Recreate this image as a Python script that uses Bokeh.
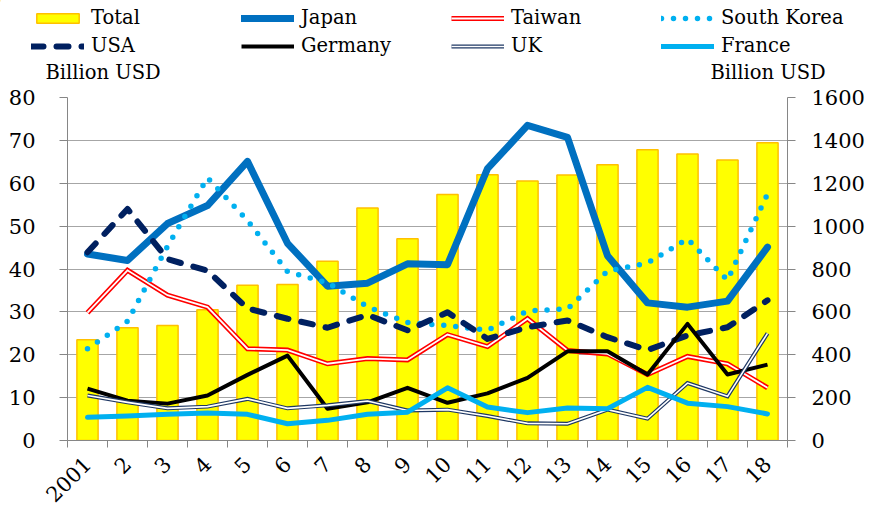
import math
from bokeh.plotting import figure
from bokeh.layouts import column
from bokeh.models import (Range1d, LinearAxis, FixedTicker, Legend, LegendItem,
                          Label, ColumnDataSource, Grid)
from bokeh.embed import file_html
from bokeh.resources import INLINE

# ---------------- data ----------------
years = ["2001", "2", "3", "4", "5", "6", "7", "8", "9", "10",
         "11", "12", "13", "14", "15", "16", "17", "18"]
total = [470, 526, 536, 610, 724, 728, 836, 1084, 941, 1148,
         1240, 1211, 1238, 1286, 1356, 1337, 1309, 1389]
japan = [43.5, 42.0, 50.6, 54.8, 65.1, 46.0, 36.0, 36.7, 41.2, 41.0,
         63.4, 73.5, 70.7, 43.1, 32.1, 31.1, 32.5, 45.1]
taiwan = [29.8, 39.7, 33.9, 31.1, 21.4, 21.1, 17.9, 19.1, 18.8, 24.7,
          21.9, 28.4, 21.0, 20.2, 15.4, 19.6, 17.9, 12.3]
south_korea = [21.4, 27.8, 45.3, 61.3, 51.3, 39.4, 36.8, 31.2, 27.5, 26.8,
               25.7, 30.2, 30.7, 39.5, 41.4, 47.0, 37.4, 57.5]
usa = [43.9, 54.0, 42.3, 39.6, 30.8, 28.4, 26.3, 29.3, 25.7, 29.9,
       23.7, 26.4, 28.0, 24.1, 21.1, 24.5, 26.4, 32.7]
germany = [12.1, 9.3, 8.6, 10.5, 15.3, 19.8, 7.4, 8.9, 12.3, 8.8,
           11.0, 14.6, 20.8, 20.8, 15.4, 27.2, 15.4, 17.7]
uk = [10.5, 8.9, 7.5, 7.9, 9.7, 7.5, 8.2, 9.2, 7.0, 7.2,
      5.7, 4.0, 3.9, 7.2, 5.1, 13.4, 10.3, 25.0]
france = [5.4, 5.7, 6.1, 6.4, 6.1, 3.9, 4.7, 6.1, 6.6, 12.3,
          7.8, 6.5, 7.6, 7.4, 12.4, 8.7, 7.9, 6.2]
left_ticks = [0, 10, 20, 30, 40, 50, 60, 70, 80]
right_ticks = [0, 200, 400, 600, 800, 1000, 1200, 1400, 1600]
unit_label = "Billion USD"

xs = list(range(1, len(years) + 1))
src = ColumnDataSource(dict(x=xs, total=total, japan=japan, taiwan=taiwan,
                            sk=south_korea, usa=usa, germany=germany,
                            uk=uk, france=france))

FONT = "DejaVu Serif"
TICK_FS = "21px"
LEG_FS = "19.5px"
AX = "#868686"
TOP_H = 84

# ---- styles ----
S_TOTAL = dict(fill_color="#FFFF00", line_color="#FFC000", line_width=1.5)
S_JAPAN = dict(line_color="#0070C0", line_width=7, line_join="round", line_cap="round")
S_TW1 = dict(line_color="#FF0000", line_width=5, line_join="miter")
S_TW2 = dict(line_color="white", line_width=1.8, line_join="miter")
S_SK = dict(line_color="#00B0F0", line_width=5.5, line_dash="0 12",
            line_cap="round", line_join="round")
S_USA = dict(line_color="#002060", line_width=6, line_dash="12 13",
             line_cap="round", line_join="round")
S_DE = dict(line_color="black", line_width=4, line_join="round")
S_UK1 = dict(line_color="#1F3864", line_width=4, line_join="miter")
S_UK2 = dict(line_color="white", line_width=1.6, line_join="miter")
S_FR = dict(line_color="#00B0F0", line_width=5, line_join="round", line_cap="round")

# ================= main chart =================
p = figure(width=874, height=511 - TOP_H, output_backend="svg", toolbar_location=None,
           x_range=Range1d(0.5, len(years) + 0.5), y_range=Range1d(0, 80),
           x_axis_location=None, y_axis_location=None,
           min_border_left=67, min_border_right=87, min_border_top=97 - TOP_H,
           min_border_bottom=71, outline_line_color=None, frame_align=False,
           background_fill_color="white", border_fill_color="white")
p.extra_y_ranges = {"r": Range1d(0, 1600)}
p.grid.visible = False
p.renderers = [r for r in p.renderers if not isinstance(r, Grid)]
p.center = [c for c in p.center if not isinstance(c, Grid)]

p.add_layout(Grid(dimension=1, ticker=FixedTicker(ticks=left_ticks),
                  grid_line_color="#a6a6a6", grid_line_width=1))

xa = LinearAxis(
    ticker=FixedTicker(ticks=xs, minor_ticks=[i + 0.5 for i in range(len(years) + 1)]),
    major_label_overrides={x: y for x, y in zip(xs, years)},
    major_tick_in=0, major_tick_out=0, minor_tick_in=0, minor_tick_out=7,
    minor_tick_line_color=AX, axis_line_color=AX,
    major_label_orientation=math.pi / 4,
    major_label_text_font=FONT, major_label_text_font_size=TICK_FS,
    major_label_text_line_height=1.0,
    major_label_text_color="black", major_label_standoff=13)
p.add_layout(xa, "below")

ya = LinearAxis(
    ticker=FixedTicker(ticks=left_ticks),
    major_tick_in=0, major_tick_out=8, minor_tick_line_color=None,
    major_tick_line_color=AX, axis_line_color=AX,
    major_label_text_font=FONT, major_label_text_font_size=TICK_FS,
    major_label_text_color="black", major_label_standoff=24)
p.add_layout(ya, "left")

ra = LinearAxis(
    y_range_name="r", ticker=FixedTicker(ticks=right_ticks),
    major_tick_in=0, major_tick_out=8, minor_tick_line_color=None,
    major_tick_line_color=AX, axis_line_color=AX,
    major_label_text_font=FONT, major_label_text_font_size=TICK_FS,
    major_label_text_color="black", major_label_standoff=16)
p.add_layout(ra, "right")

p.vbar(x="x", top="total", width=0.53, source=src, y_range_name="r", **S_TOTAL)
p.line("x", "japan", source=src, **S_JAPAN)
p.line("x", "taiwan", source=src, **S_TW1)
p.line("x", "taiwan", source=src, **S_TW2)
p.line("x", "sk", source=src, **S_SK)
p.line("x", "usa", source=src, **S_USA)
p.line("x", "germany", source=src, **S_DE)
p.line("x", "uk", source=src, **S_UK1)
p.line("x", "uk", source=src, **S_UK2)
p.line("x", "france", source=src, **S_FR)

# ================= legend strip =================
top = figure(width=874, height=TOP_H, output_backend="svg", toolbar_location=None,
             x_range=Range1d(0, 874), y_range=Range1d(TOP_H, 0),
             x_axis_location=None, y_axis_location=None,
             min_border_left=0, min_border_right=0, min_border_top=0,
             min_border_bottom=0, frame_align=False,
             outline_line_color=None, background_fill_color="white",
             border_fill_color="white")
top.grid.visible = False

# legend-sample renderers, their points lie outside the strip
off = ColumnDataSource(dict(x=[-1000, -990], y=[-1000, -1000]))
t_total = top.vbar(x="x", top="y", width=1, source=off, **S_TOTAL)
t_japan = top.line("x", "y", source=off, **S_JAPAN)
t_tw1 = top.line("x", "y", source=off, **S_TW1)
t_tw2 = top.line("x", "y", source=off, **S_TW2)
t_sk = top.line("x", "y", source=off, **S_SK)
t_usa = top.line("x", "y", source=off, **S_USA)
t_de = top.line("x", "y", source=off, **S_DE)
t_uk1 = top.line("x", "y", source=off, **S_UK1)
t_uk2 = top.line("x", "y", source=off, **S_UK2)
t_fr = top.line("x", "y", source=off, **S_FR)


def make_legend(items, vy):
    return Legend(items=items, orientation="horizontal", location=(31, vy),
                  glyph_width=53, glyph_height=12, label_standoff=7,
                  label_width=150, spacing=0, padding=0, margin=0,
                  border_line_color=None, background_fill_alpha=0,
                  label_text_font=FONT, label_text_font_size=LEG_FS,
                  label_text_color="black")


leg1 = make_legend([LegendItem(label="Total", renderers=[t_total]),
                    LegendItem(label="Japan", renderers=[t_japan]),
                    LegendItem(label="Taiwan", renderers=[t_tw1, t_tw2]),
                    LegendItem(label="South Korea", renderers=[t_sk])], TOP_H - 29)
leg2 = make_legend([LegendItem(label="USA", renderers=[t_usa]),
                    LegendItem(label="Germany", renderers=[t_de]),
                    LegendItem(label="UK", renderers=[t_uk1, t_uk2]),
                    LegendItem(label="France", renderers=[t_fr])], TOP_H - 57)
top.add_layout(leg1)
top.add_layout(leg2)

for lx in (45, 710):
    top.add_layout(Label(x=lx, y=72, text=unit_label, text_font=FONT,
                         text_font_size=LEG_FS, text_color="black",
                         text_baseline="middle"))

layout = column(top, p, spacing=0)
open("out.html", "w").write(file_html(layout, INLINE))
